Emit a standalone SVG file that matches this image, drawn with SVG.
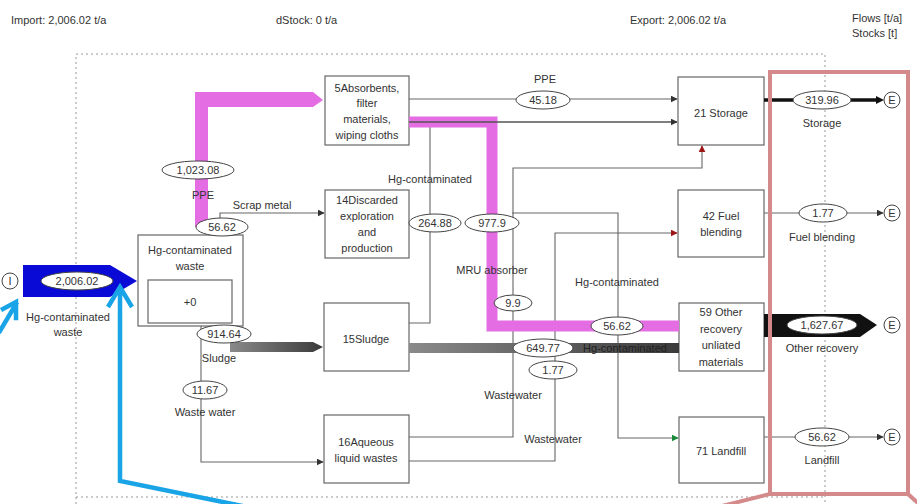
<svg xmlns="http://www.w3.org/2000/svg" width="917" height="504" viewBox="0 0 917 504">
<defs>
<marker id="ah" viewBox="0 0 10 10" refX="9" refY="5" markerWidth="7" markerHeight="7" markerUnits="userSpaceOnUse" orient="auto"><path d="M0,0 L10,5 L0,10 z" fill="#333"/></marker>
<marker id="ahr" viewBox="0 0 10 10" refX="9" refY="5" markerWidth="7" markerHeight="7" markerUnits="userSpaceOnUse" orient="auto"><path d="M0,0 L10,5 L0,10 z" fill="#a01515"/></marker>
<marker id="ahg" viewBox="0 0 10 10" refX="9" refY="5" markerWidth="7" markerHeight="7" markerUnits="userSpaceOnUse" orient="auto"><path d="M0,0 L10,5 L0,10 z" fill="#1a8a3a"/></marker>
<linearGradient id="gs" x1="0" y1="0" x2="1" y2="0"><stop offset="0" stop-color="#8a8a8a"/><stop offset="1" stop-color="#3a3a3a"/></linearGradient>
</defs>
<style>
.t{font-family:"Liberation Sans",Arial,sans-serif;font-size:11px;fill:#333}
.m{text-anchor:middle}
.box{fill:#fff;stroke:#666;stroke-width:1.2}
.ln{fill:none;stroke:#666;stroke-width:1.1}
.lab{fill:#fff;stroke:#444;stroke-width:1}
.cy{fill:none;stroke:#18a4e6;stroke-width:4.5;stroke-linecap:square}
</style>
<rect width="917" height="504" fill="#fff"/>
<g id="header">
<text class="t" x="11" y="24">Import: 2,006.02 t/a</text>
<text class="t" x="276" y="24">dStock: 0 t/a</text>
<text class="t" x="630" y="24">Export: 2,006.02 t/a</text>
<text class="t" x="852" y="22">Flows [t/a]</text>
<text class="t" x="852" y="37">Stocks [t]</text>
</g>
<g id="boundary" fill="none" stroke="#999" stroke-width="1" stroke-dasharray="2 3">
<path d="M76 504 V54 H825 V504"/>
<path d="M76 497 H825"/>
</g>
<g id="nodes">
<g id="n-waste"><rect class="box" x="138" y="235" width="105" height="91"/><rect class="box" x="148" y="280" width="84" height="43"/>
<text class="t m" x="190" y="254">Hg-contaminated</text><text class="t m" x="190" y="270">waste</text><text class="t m" x="190" y="306">+0</text></g>
<g id="n5"><rect class="box" x="325" y="76" width="84" height="69"/>
<text class="t m" x="367" y="92">5Absorbents,</text><text class="t m" x="367" y="107">filter</text><text class="t m" x="367" y="123">materials,</text><text class="t m" x="367" y="139">wiping cloths</text></g>
<g id="n14"><rect class="box" x="325" y="190" width="84" height="68"/>
<text class="t m" x="367" y="204">14Discarded</text><text class="t m" x="367" y="220">exploration</text><text class="t m" x="367" y="236">and</text><text class="t m" x="367" y="252">production</text></g>
<g id="n15"><rect class="box" x="324" y="303" width="85" height="68"/><text class="t m" x="366" y="343">15Sludge</text></g>
<g id="n16"><rect class="box" x="324" y="415" width="85" height="68"/><text class="t m" x="366" y="446">16Aqueous</text><text class="t m" x="366" y="462">liquid wastes</text></g>
<g id="n21"><rect class="box" x="678" y="77" width="86" height="68"/><text class="t m" x="721" y="117">21 Storage</text></g>
<g id="n42"><rect class="box" x="678" y="190" width="86" height="67"/><text class="t m" x="721" y="220">42 Fuel</text><text class="t m" x="721" y="236">blending</text></g>
<g id="n59"><rect class="box" x="679" y="303" width="85" height="68"/><text class="t m" x="721" y="316">59 Other</text><text class="t m" x="721" y="333">recovery</text><text class="t m" x="721" y="349">unliated</text><text class="t m" x="721" y="366">materials</text></g>
<g id="n71"><rect class="box" x="679" y="417" width="85" height="66"/><text class="t m" x="721" y="455">71 Landfill</text></g>
<g id="n-import"><circle cx="10" cy="281" r="8" fill="#fff" stroke="#444"/><text class="t m" x="10" y="285">I</text></g>
<g id="e1"><circle cx="892" cy="100" r="8" fill="#fff" stroke="#444"/><text class="t m" x="892" y="104">E</text></g>
<g id="e2"><circle cx="892" cy="213" r="8" fill="#fff" stroke="#444"/><text class="t m" x="892" y="217">E</text></g>
<g id="e3"><circle cx="892" cy="325" r="8" fill="#fff" stroke="#444"/><text class="t m" x="892" y="329">E</text></g>
<g id="e4"><circle cx="892" cy="437" r="8" fill="#fff" stroke="#444"/><text class="t m" x="892" y="441">E</text></g>
</g>
<g id="connectors">
<path class="ln" d="M220 220 V213 H324" marker-end="url(#ah)"/>
<path class="ln" d="M201 326 V462 H323" marker-end="url(#ah)"/>
<path class="ln" d="M409 99 H677" marker-end="url(#ah)"/>
<path class="ln" d="M409 323 H430 V122"/>
<path class="ln" d="M409 437 H513 V168 H702 V146" marker-end="url(#ahr)"/>
<path class="ln" d="M409 461 H555 V233 H677" marker-end="url(#ahr)"/>
<path class="ln" d="M512 213 H618 V438 H678" marker-end="url(#ahg)"/>
<path class="ln" d="M764 213 H883" marker-end="url(#ah)"/>
<path class="ln" d="M764 437 H883" marker-end="url(#ah)"/>
<path d="M764 100 H878" fill="none" stroke="#111" stroke-width="3.5"/>
<path d="M876 96 L884 100 L876 104 z" fill="#111"/>
<polygon points="764,314 860,314 877,325 860,337 764,337" fill="#111"/>
<polygon points="230,342 313,342 323,347 313,352 230,352" fill="url(#gs)"/>
<rect x="409" y="343" width="270" height="10" fill="url(#gs)"/>
<polygon points="195,227 195,92 313,92 323,100 313,107 208,107 208,227" fill="#e46de4"/>
<path d="M409 122 H492 V326 H679" fill="none" stroke="#e46de4" stroke-width="11"/>
<path d="M409 122 H677" fill="none" stroke="#555" stroke-width="1.6" marker-end="url(#ah)"/>
<polygon points="23,265 110,265 137,281 110,297 23,297" fill="#0a0ad6"/>
</g>
<g id="labels">
<ellipse class="lab" cx="77" cy="281" rx="36" ry="9"/><text class="t m" x="77" y="285">2,006.02</text>
<text class="t m" x="68" y="321">Hg-contaminated</text><text class="t m" x="68" y="336">waste</text>
<ellipse class="lab" cx="198" cy="170" rx="36" ry="9"/><text class="t m" x="198" y="174">1,023.08</text>
<text class="t m" x="203" y="199">PPE</text>
<ellipse class="lab" cx="222" cy="227" rx="26" ry="9"/><text class="t m" x="222" y="231">56.62</text>
<text class="t m" x="262" y="209">Scrap metal</text>
<ellipse class="lab" cx="224" cy="334" rx="27" ry="9"/><text class="t m" x="224" y="338">914.64</text>
<text class="t m" x="219" y="362">Sludge</text>
<ellipse class="lab" cx="205" cy="390" rx="22" ry="9"/><text class="t m" x="205" y="394">11.67</text>
<text class="t m" x="205" y="416">Waste water</text>
<text class="t m" x="545" y="83">PPE</text>
<ellipse class="lab" cx="543" cy="100" rx="27" ry="9"/><text class="t m" x="543" y="104">45.18</text>
<text class="t m" x="430" y="183">Hg-contaminated</text>
<ellipse class="lab" cx="435" cy="223" rx="26" ry="9"/><text class="t m" x="435" y="227">264.88</text>
<ellipse class="lab" cx="492" cy="223" rx="27" ry="9"/><text class="t m" x="492" y="227">977.9</text>
<text class="t m" x="492" y="274">MRU absorber</text>
<text class="t m" x="617" y="286">Hg-contaminated</text>
<ellipse class="lab" cx="513" cy="303" rx="19" ry="8"/><text class="t m" x="513" y="307">9.9</text>
<ellipse class="lab" cx="617" cy="326" rx="26" ry="9"/><text class="t m" x="617" y="330">56.62</text>
<ellipse class="lab" cx="543" cy="348" rx="30" ry="9"/><text class="t m" x="543" y="352">649.77</text>
<text class="t m" x="625" y="352" style="fill:#222">Hg-contaminated</text>
<ellipse class="lab" cx="553" cy="370" rx="24" ry="9"/><text class="t m" x="553" y="374">1.77</text>
<text class="t m" x="513" y="399">Wastewater</text>
<text class="t m" x="553" y="443">Wastewater</text>
<ellipse class="lab" cx="822" cy="100" rx="29" ry="9"/><text class="t m" x="822" y="104">319.96</text>
<text class="t m" x="822" y="127">Storage</text>
<ellipse class="lab" cx="823" cy="213" rx="24" ry="9"/><text class="t m" x="823" y="217">1.77</text>
<text class="t m" x="822" y="241">Fuel blending</text>
<ellipse class="lab" cx="822" cy="325" rx="35" ry="9"/><text class="t m" x="822" y="329">1,627.67</text>
<text class="t m" x="822" y="352">Other recovery</text>
<ellipse class="lab" cx="822" cy="437" rx="27" ry="9"/><text class="t m" x="822" y="441">56.62</text>
<text class="t m" x="822" y="464">Landfill</text>
</g>
<g id="annotations">
<path d="M722 506 L770 494 V72 H908 V494 L919 504 M770 494 H908" fill="none" stroke="#d4898b" stroke-width="4"/>
<path class="cy" d="M0 331 L16 304 M3 309 L16 302 L16 318"/>
<path class="cy" d="M120 288 V481 L262 510 M108 307 L120 287 L132 307" style="stroke-linecap:butt"/>
</g>
</svg>
